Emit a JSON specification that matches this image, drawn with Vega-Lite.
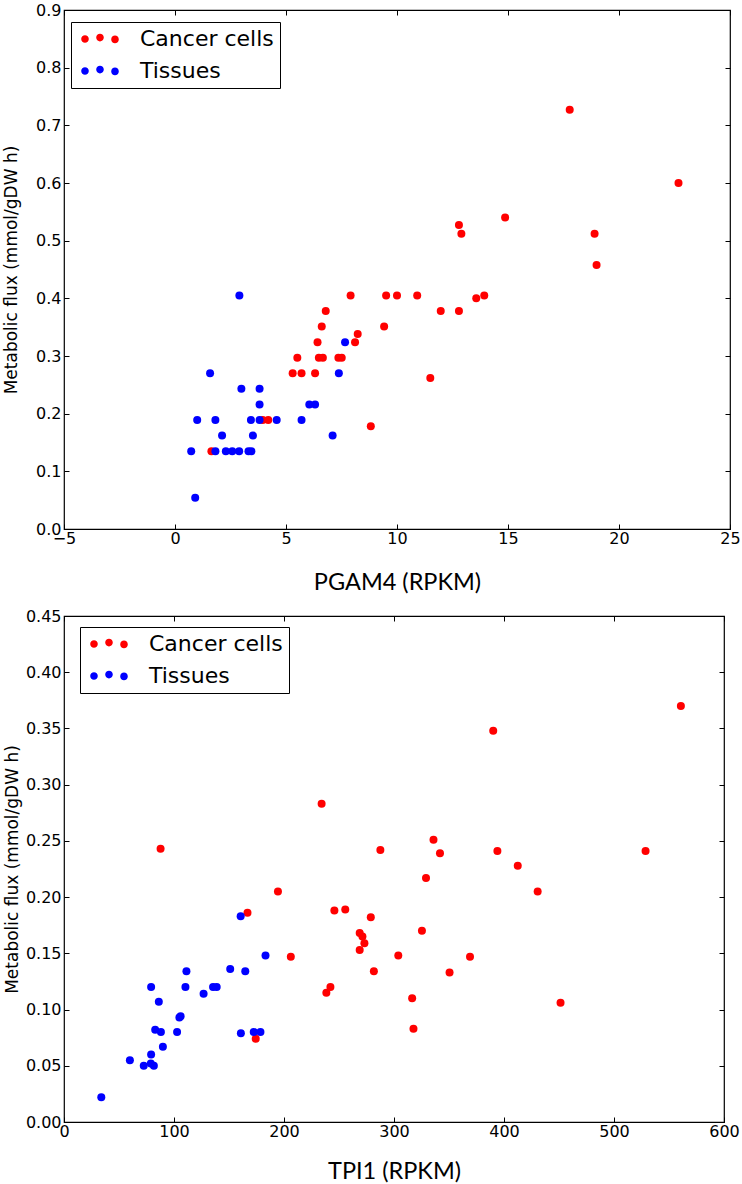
{
  "$schema": "https://vega.github.io/schema/vega-lite/v6.json",
  "padding": {"left": 1, "top": 1, "right": 5, "bottom": 0},
  "background": "white",
  "config": {
    "view": {"stroke": "black", "strokeWidth": 1.2},
    "axis": {"domain": false, "grid": false, "tickColor": "black", "tickSize": -5, "tickWidth": 1, "labelFont": "DejaVu Sans", "labelFontSize": 16, "labelColor": "black", "labelFlush": false, "labelOverlap": false, "titleColor": "black", "titleFontWeight": "normal"},
    "legend": {"orient": "none", "title": null, "fillColor": "white", "strokeColor": "black", "strokeWidth": 1, "padding": 6, "labelFont": "DejaVu Sans", "labelFontSize": 22, "labelColor": "black", "symbolType": "M -2.8,0 A 0.95,0.95 0 1,0 -4.7,0 A 0.95,0.95 0 1,0 -2.8,0 Z M 0.95,-0.35 A 0.95,0.95 0 1,0 -0.95,-0.35 A 0.95,0.95 0 1,0 0.95,-0.35 Z M 4.7,0.1 A 0.95,0.95 0 1,0 2.8,0.1 A 0.95,0.95 0 1,0 4.7,0.1 Z", "symbolSize": 64, "symbolOffset": 12, "labelOffset": 29, "rowPadding": 10, "symbolStrokeWidth": 0, "cornerRadius": 0}
  },
  "datasets": {
    "pgam4": [
      {"x": 1.64, "y": 0.135, "group": "Cancer cells"},
      {"x": 3.95, "y": 0.189, "group": "Cancer cells"},
      {"x": 4.2, "y": 0.189, "group": "Cancer cells"},
      {"x": 5.3, "y": 0.27, "group": "Cancer cells"},
      {"x": 5.7, "y": 0.27, "group": "Cancer cells"},
      {"x": 6.31, "y": 0.27, "group": "Cancer cells"},
      {"x": 5.51, "y": 0.297, "group": "Cancer cells"},
      {"x": 6.48, "y": 0.297, "group": "Cancer cells"},
      {"x": 6.66, "y": 0.297, "group": "Cancer cells"},
      {"x": 7.36, "y": 0.297, "group": "Cancer cells"},
      {"x": 7.51, "y": 0.297, "group": "Cancer cells"},
      {"x": 6.42, "y": 0.324, "group": "Cancer cells"},
      {"x": 8.11, "y": 0.324, "group": "Cancer cells"},
      {"x": 8.23, "y": 0.338, "group": "Cancer cells"},
      {"x": 6.61, "y": 0.351, "group": "Cancer cells"},
      {"x": 6.79, "y": 0.378, "group": "Cancer cells"},
      {"x": 7.91, "y": 0.405, "group": "Cancer cells"},
      {"x": 8.82, "y": 0.178, "group": "Cancer cells"},
      {"x": 9.42, "y": 0.351, "group": "Cancer cells"},
      {"x": 9.51, "y": 0.405, "group": "Cancer cells"},
      {"x": 10.0, "y": 0.405, "group": "Cancer cells"},
      {"x": 10.91, "y": 0.405, "group": "Cancer cells"},
      {"x": 11.5, "y": 0.262, "group": "Cancer cells"},
      {"x": 11.97, "y": 0.378, "group": "Cancer cells"},
      {"x": 12.79, "y": 0.378, "group": "Cancer cells"},
      {"x": 13.57, "y": 0.4, "group": "Cancer cells"},
      {"x": 13.93, "y": 0.405, "group": "Cancer cells"},
      {"x": 12.79, "y": 0.527, "group": "Cancer cells"},
      {"x": 12.9, "y": 0.512, "group": "Cancer cells"},
      {"x": 14.87, "y": 0.54, "group": "Cancer cells"},
      {"x": 17.78, "y": 0.727, "group": "Cancer cells"},
      {"x": 18.9, "y": 0.512, "group": "Cancer cells"},
      {"x": 18.99, "y": 0.458, "group": "Cancer cells"},
      {"x": 22.68, "y": 0.6, "group": "Cancer cells"},
      {"x": 2.9, "y": 0.405, "group": "Tissues"},
      {"x": 1.58, "y": 0.27, "group": "Tissues"},
      {"x": 2.99, "y": 0.243, "group": "Tissues"},
      {"x": 3.81, "y": 0.243, "group": "Tissues"},
      {"x": 3.81, "y": 0.216, "group": "Tissues"},
      {"x": 7.66, "y": 0.324, "group": "Tissues"},
      {"x": 7.38, "y": 0.27, "group": "Tissues"},
      {"x": 6.05, "y": 0.216, "group": "Tissues"},
      {"x": 6.31, "y": 0.216, "group": "Tissues"},
      {"x": 1.0, "y": 0.189, "group": "Tissues"},
      {"x": 1.82, "y": 0.189, "group": "Tissues"},
      {"x": 3.42, "y": 0.189, "group": "Tissues"},
      {"x": 3.81, "y": 0.189, "group": "Tissues"},
      {"x": 4.58, "y": 0.189, "group": "Tissues"},
      {"x": 5.7, "y": 0.189, "group": "Tissues"},
      {"x": 2.12, "y": 0.162, "group": "Tissues"},
      {"x": 3.51, "y": 0.162, "group": "Tissues"},
      {"x": 7.1, "y": 0.162, "group": "Tissues"},
      {"x": 0.73, "y": 0.135, "group": "Tissues"},
      {"x": 1.82, "y": 0.135, "group": "Tissues"},
      {"x": 2.29, "y": 0.135, "group": "Tissues"},
      {"x": 2.58, "y": 0.135, "group": "Tissues"},
      {"x": 2.89, "y": 0.135, "group": "Tissues"},
      {"x": 3.31, "y": 0.135, "group": "Tissues"},
      {"x": 3.44, "y": 0.135, "group": "Tissues"},
      {"x": 0.91, "y": 0.054, "group": "Tissues"}
    ],
    "tpi1": [
      {"x": 87.8, "y": 0.243, "group": "Cancer cells"},
      {"x": 166.8, "y": 0.186, "group": "Cancer cells"},
      {"x": 174.3, "y": 0.074, "group": "Cancer cells"},
      {"x": 194.5, "y": 0.205, "group": "Cancer cells"},
      {"x": 206.2, "y": 0.147, "group": "Cancer cells"},
      {"x": 234.2, "y": 0.283, "group": "Cancer cells"},
      {"x": 238.5, "y": 0.115, "group": "Cancer cells"},
      {"x": 242.2, "y": 0.12, "group": "Cancer cells"},
      {"x": 245.8, "y": 0.188, "group": "Cancer cells"},
      {"x": 255.7, "y": 0.189, "group": "Cancer cells"},
      {"x": 268.8, "y": 0.168, "group": "Cancer cells"},
      {"x": 271.3, "y": 0.165, "group": "Cancer cells"},
      {"x": 268.8, "y": 0.153, "group": "Cancer cells"},
      {"x": 273.1, "y": 0.159, "group": "Cancer cells"},
      {"x": 278.9, "y": 0.182, "group": "Cancer cells"},
      {"x": 281.7, "y": 0.134, "group": "Cancer cells"},
      {"x": 287.6, "y": 0.242, "group": "Cancer cells"},
      {"x": 303.9, "y": 0.148, "group": "Cancer cells"},
      {"x": 316.5, "y": 0.11, "group": "Cancer cells"},
      {"x": 317.7, "y": 0.083, "group": "Cancer cells"},
      {"x": 325.4, "y": 0.17, "group": "Cancer cells"},
      {"x": 329.1, "y": 0.217, "group": "Cancer cells"},
      {"x": 335.9, "y": 0.251, "group": "Cancer cells"},
      {"x": 341.8, "y": 0.239, "group": "Cancer cells"},
      {"x": 350.5, "y": 0.133, "group": "Cancer cells"},
      {"x": 369.1, "y": 0.147, "group": "Cancer cells"},
      {"x": 390.2, "y": 0.348, "group": "Cancer cells"},
      {"x": 394.0, "y": 0.241, "group": "Cancer cells"},
      {"x": 412.5, "y": 0.228, "group": "Cancer cells"},
      {"x": 430.6, "y": 0.205, "group": "Cancer cells"},
      {"x": 451.4, "y": 0.106, "group": "Cancer cells"},
      {"x": 528.7, "y": 0.241, "group": "Cancer cells"},
      {"x": 560.8, "y": 0.37, "group": "Cancer cells"},
      {"x": 33.9, "y": 0.022, "group": "Tissues"},
      {"x": 59.9, "y": 0.055, "group": "Tissues"},
      {"x": 72.5, "y": 0.05, "group": "Tissues"},
      {"x": 78.9, "y": 0.052, "group": "Tissues"},
      {"x": 81.7, "y": 0.05, "group": "Tissues"},
      {"x": 79.2, "y": 0.06, "group": "Tissues"},
      {"x": 89.9, "y": 0.067, "group": "Tissues"},
      {"x": 82.9, "y": 0.082, "group": "Tissues"},
      {"x": 88.1, "y": 0.08, "group": "Tissues"},
      {"x": 102.8, "y": 0.08, "group": "Tissues"},
      {"x": 104.9, "y": 0.093, "group": "Tissues"},
      {"x": 106.0, "y": 0.094, "group": "Tissues"},
      {"x": 86.2, "y": 0.107, "group": "Tissues"},
      {"x": 79.2, "y": 0.12, "group": "Tissues"},
      {"x": 110.4, "y": 0.12, "group": "Tissues"},
      {"x": 111.3, "y": 0.134, "group": "Tissues"},
      {"x": 126.9, "y": 0.114, "group": "Tissues"},
      {"x": 135.5, "y": 0.12, "group": "Tissues"},
      {"x": 138.8, "y": 0.12, "group": "Tissues"},
      {"x": 151.1, "y": 0.136, "group": "Tissues"},
      {"x": 164.8, "y": 0.134, "group": "Tissues"},
      {"x": 160.6, "y": 0.183, "group": "Tissues"},
      {"x": 183.2, "y": 0.148, "group": "Tissues"},
      {"x": 160.8, "y": 0.079, "group": "Tissues"},
      {"x": 172.5, "y": 0.08, "group": "Tissues"},
      {"x": 178.6, "y": 0.08, "group": "Tissues"}
    ]
  },
  "spacing": 12,
  "resolve": {"scale": {"color": "independent"}, "legend": {"color": "independent"}},
  "vconcat": [
    {
      "width": 666,
      "height": 519,
      "data": {"name": "pgam4"},
      "layer": [
        {
          "mark": {"type": "circle", "size": 64, "opacity": 1},
          "encoding": {
            "x": {"field": "x", "type": "quantitative", "scale": {"domain": [-5, 25], "nice": false, "zero": false},
                  "axis": {"values": [-5, 0, 5, 10, 15, 20, 25], "format": "d", "title": "PGAM4 (RPKM)", "titleFont": "Lato", "titleFontSize": 23.5, "titlePadding": 24, "labelPadding": 6}},
            "y": {"field": "y", "type": "quantitative", "scale": {"domain": [0, 0.9], "nice": false},
                  "axis": {"values": [0, 0.1, 0.2, 0.3, 0.4, 0.5, 0.6, 0.7, 0.8, 0.9], "format": ".1f", "title": "Metabolic flux (mmol/gDW h)", "titleFont": "DejaVu Sans", "titleFontSize": 17, "labelPadding": 8, "titlePadding": 15}},
            "color": {"field": "group", "type": "nominal", "scale": {"domain": ["Cancer cells", "Tissues"], "range": ["#ff0000", "#0000ff"]}, "legend": {"legendX": 7, "legendY": 12}}
          }
        },
        {
          "mark": {"type": "circle", "opacity": 0},
          "encoding": {
            "x": {"field": "x", "type": "quantitative", "axis": {"values": [-5, 0, 5, 10, 15, 20, 25], "labels": false, "title": null}},
            "y": {"field": "y", "type": "quantitative", "axis": {"values": [0, 0.1, 0.2, 0.3, 0.4, 0.5, 0.6, 0.7, 0.8, 0.9], "labels": false, "title": null}}
          }
        }
      ],
      "resolve": {"axis": {"x": "independent", "y": "independent"}}
    },
    {
      "width": 660,
      "height": 506,
      "data": {"name": "tpi1"},
      "layer": [
        {
          "mark": {"type": "circle", "size": 64, "opacity": 1},
          "encoding": {
            "x": {"field": "x", "type": "quantitative", "scale": {"domain": [0, 600], "nice": false},
                  "axis": {"values": [0, 100, 200, 300, 400, 500, 600], "format": "d", "title": "TPI1 (RPKM)", "titleFont": "Lato", "titleFontSize": 23.5, "titlePadding": 20, "labelPadding": 6}},
            "y": {"field": "y", "type": "quantitative", "scale": {"domain": [0, 0.45], "nice": false},
                  "axis": {"values": [0, 0.05, 0.1, 0.15, 0.2, 0.25, 0.3, 0.35, 0.4, 0.45], "format": ".2f", "title": "Metabolic flux (mmol/gDW h)", "titleFont": "DejaVu Sans", "titleFontSize": 17, "labelPadding": 8}},
            "color": {"field": "group", "type": "nominal", "scale": {"domain": ["Cancer cells", "Tissues"], "range": ["#ff0000", "#0000ff"]}, "legend": {"legendX": 16, "legendY": 11}}
          }
        },
        {
          "mark": {"type": "circle", "opacity": 0},
          "encoding": {
            "x": {"field": "x", "type": "quantitative", "axis": {"values": [0, 100, 200, 300, 400, 500, 600], "labels": false, "title": null}},
            "y": {"field": "y", "type": "quantitative", "axis": {"values": [0, 0.05, 0.1, 0.15, 0.2, 0.25, 0.3, 0.35, 0.4, 0.45], "labels": false, "title": null}}
          }
        }
      ],
      "resolve": {"axis": {"x": "independent", "y": "independent"}}
    }
  ]
}
